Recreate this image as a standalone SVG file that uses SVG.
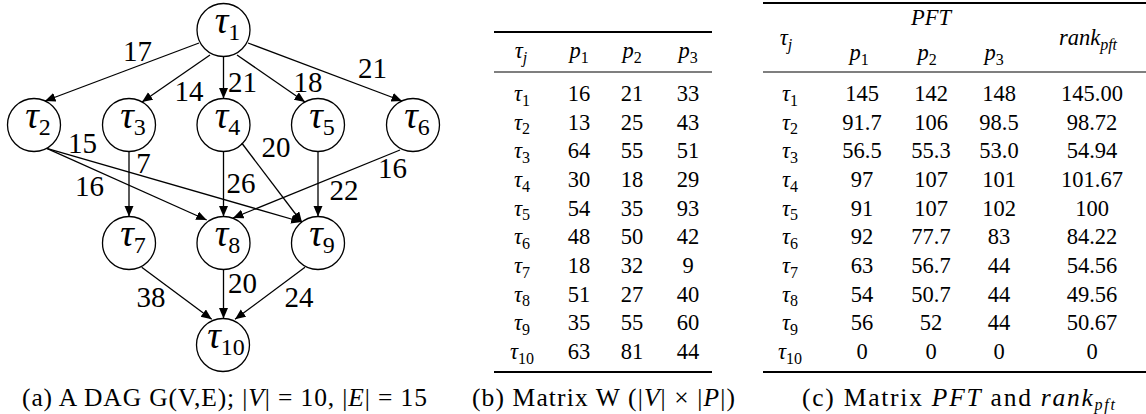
<svg xmlns="http://www.w3.org/2000/svg" width="1146" height="414" viewBox="0 0 1146 414">
<style>
text{font-family:"Liberation Serif","Times New Roman",serif;fill:#000}
.node circle{fill:none;stroke:#000;stroke-width:1.3}
.nl{font-size:38px;font-style:italic;text-anchor:middle}
.ns{font-size:24px;font-style:normal}
.conn line{stroke:#000;stroke-width:1.3;marker-end:url(#arr)}
.el{font-size:29px;text-anchor:middle}
.t{font-size:22.5px;text-anchor:middle}
.m{font-style:italic}
.s{font-size:16px;font-style:normal}
.si{font-size:16px;font-style:italic}
.cap{font-size:25.5px;text-anchor:middle}
.rule{stroke:#000;stroke-width:2}
.mrule{stroke:#000;stroke-width:1.2}
</style>
<defs>
<marker id="arr" markerUnits="userSpaceOnUse" markerWidth="12" markerHeight="10" refX="10.5" refY="4.5" orient="auto">
<path d="M0,0 L10.5,4.5 L0,9 Z" fill="#000"/>
</marker>
</defs>

<g id="connectors" class="conn">
<line x1="199" y1="43" x2="45" y2="101"/>
<line x1="210" y1="55" x2="142" y2="102"/>
<line x1="223.5" y1="56.5" x2="223.5" y2="98.5"/>
<line x1="237" y1="55" x2="305" y2="102"/>
<line x1="248" y1="43" x2="402" y2="101"/>
<line x1="46.7" y1="148.3" x2="206.7" y2="220"/>
<line x1="46.7" y1="148.3" x2="301.7" y2="222"/>
<line x1="129" y1="151.5" x2="129" y2="216.5"/>
<line x1="223.5" y1="151.5" x2="223.5" y2="216.5"/>
<line x1="241.7" y1="143" x2="302" y2="222.5"/>
<line x1="318" y1="151.5" x2="318" y2="216.5"/>
<line x1="400" y1="150" x2="233" y2="218"/>
<line x1="141.7" y1="267.3" x2="211.7" y2="319.3"/>
<line x1="223.5" y1="269.5" x2="223.5" y2="318.5"/>
<line x1="305" y1="267.3" x2="235" y2="319.3"/>
</g>

<g id="edge-labels" class="el">
<text x="137.5" y="60.5">17</text>
<text x="189" y="101">14</text>
<text x="242.5" y="91.5">21</text>
<text x="308" y="92">18</text>
<text x="372.5" y="78">21</text>
<text x="82.5" y="152.5">15</text>
<text x="89.5" y="196">16</text>
<text x="143.5" y="173">7</text>
<text x="241" y="193">26</text>
<text x="276" y="156.5">20</text>
<text x="344" y="200">22</text>
<text x="392.5" y="178">16</text>
<text x="151" y="306.5">38</text>
<text x="242.5" y="293">20</text>
<text x="299" y="307">24</text>
</g>

<g id="t1" class="node"><circle cx="223.5" cy="30" r="26.5"/><text class="nl" x="227.5" y="33">τ<tspan class="ns" dy="7">1</tspan></text></g>
<g id="t2" class="node"><circle cx="34" cy="125" r="26.5"/><text class="nl" x="38" y="128">τ<tspan class="ns" dy="7">2</tspan></text></g>
<g id="t3" class="node"><circle cx="129" cy="125" r="26.5"/><text class="nl" x="133" y="128">τ<tspan class="ns" dy="7">3</tspan></text></g>
<g id="t4" class="node"><circle cx="223.5" cy="125" r="26.5"/><text class="nl" x="227.5" y="128">τ<tspan class="ns" dy="7">4</tspan></text></g>
<g id="t5" class="node"><circle cx="318" cy="125" r="26.5"/><text class="nl" x="322" y="128">τ<tspan class="ns" dy="7">5</tspan></text></g>
<g id="t6" class="node"><circle cx="413" cy="125" r="26.5"/><text class="nl" x="417" y="128">τ<tspan class="ns" dy="7">6</tspan></text></g>
<g id="t7" class="node"><circle cx="129" cy="243" r="26.5"/><text class="nl" x="133" y="246">τ<tspan class="ns" dy="7">7</tspan></text></g>
<g id="t8" class="node"><circle cx="223.5" cy="243" r="26.5"/><text class="nl" x="227.5" y="246">τ<tspan class="ns" dy="7">8</tspan></text></g>
<g id="t9" class="node"><circle cx="318" cy="243" r="26.5"/><text class="nl" x="322" y="246">τ<tspan class="ns" dy="7">9</tspan></text></g>
<g id="t10" class="node"><circle cx="223" cy="345" r="26.5"/><text class="nl" x="226" y="348">τ<tspan class="ns" dy="7">10</tspan></text></g>

<text class="cap" x="224.5" y="406" textLength="405" lengthAdjust="spacing">(a) A DAG G(V,E); |<tspan class="m">V</tspan>| = 10, |<tspan class="m">E</tspan>| = 15</text>

<g id="tableW">
<line class="rule" x1="494" y1="32" x2="712" y2="32"/>
<line class="mrule" x1="494" y1="72" x2="712" y2="72"/>
<line class="rule" x1="494" y1="372" x2="712" y2="372"/>
<g class="t">
<text x="521" y="58"><tspan class="m">τ</tspan><tspan class="si" dy="4.5">j</tspan></text>
<text x="579" y="58"><tspan class="m">p</tspan><tspan class="s" dy="4.5">1</tspan></text>
<text x="632" y="58"><tspan class="m">p</tspan><tspan class="s" dy="4.5">2</tspan></text>
<text x="688" y="58"><tspan class="m">p</tspan><tspan class="s" dy="4.5">3</tspan></text>
</g>
<g class="t">
<text x="522" y="101"><tspan class="m">τ</tspan><tspan class="s" dy="4.5">1</tspan></text>
<text x="522" y="129.7"><tspan class="m">τ</tspan><tspan class="s" dy="4.5">2</tspan></text>
<text x="522" y="158.3"><tspan class="m">τ</tspan><tspan class="s" dy="4.5">3</tspan></text>
<text x="522" y="187"><tspan class="m">τ</tspan><tspan class="s" dy="4.5">4</tspan></text>
<text x="522" y="215.7"><tspan class="m">τ</tspan><tspan class="s" dy="4.5">5</tspan></text>
<text x="522" y="244.3"><tspan class="m">τ</tspan><tspan class="s" dy="4.5">6</tspan></text>
<text x="522" y="273"><tspan class="m">τ</tspan><tspan class="s" dy="4.5">7</tspan></text>
<text x="522" y="301.7"><tspan class="m">τ</tspan><tspan class="s" dy="4.5">8</tspan></text>
<text x="522" y="330.3"><tspan class="m">τ</tspan><tspan class="s" dy="4.5">9</tspan></text>
<text x="522" y="359"><tspan class="m">τ</tspan><tspan class="s" dy="4.5">10</tspan></text>
</g>
<g class="t">
<text x="579" y="101">16</text><text x="632" y="101">21</text><text x="688" y="101">33</text>
<text x="579" y="129.7">13</text><text x="632" y="129.7">25</text><text x="688" y="129.7">43</text>
<text x="579" y="158.3">64</text><text x="632" y="158.3">55</text><text x="688" y="158.3">51</text>
<text x="579" y="187">30</text><text x="632" y="187">18</text><text x="688" y="187">29</text>
<text x="579" y="215.7">54</text><text x="632" y="215.7">35</text><text x="688" y="215.7">93</text>
<text x="579" y="244.3">48</text><text x="632" y="244.3">50</text><text x="688" y="244.3">42</text>
<text x="579" y="273">18</text><text x="632" y="273">32</text><text x="688" y="273">9</text>
<text x="579" y="301.7">51</text><text x="632" y="301.7">27</text><text x="688" y="301.7">40</text>
<text x="579" y="330.3">35</text><text x="632" y="330.3">55</text><text x="688" y="330.3">60</text>
<text x="579" y="359">63</text><text x="632" y="359">81</text><text x="688" y="359">44</text>
</g>
<text class="cap" x="603.5" y="406" textLength="263" lengthAdjust="spacing">(b) Matrix W (|<tspan class="m">V</tspan>| × |<tspan class="m">P</tspan>|)</text>
</g>

<g id="tablePFT">
<line class="rule" x1="763" y1="3" x2="1146" y2="3"/>
<line class="mrule" x1="763" y1="72" x2="1146" y2="72"/>
<line class="rule" x1="763" y1="372" x2="1146" y2="372"/>
<g class="t">
<text x="931" y="25" class="m">PFT</text>
<text x="786" y="45"><tspan class="m">τ</tspan><tspan class="si" dy="4.5">j</tspan></text>
<text x="859" y="60"><tspan class="m">p</tspan><tspan class="s" dy="4.5">1</tspan></text>
<text x="927" y="60"><tspan class="m">p</tspan><tspan class="s" dy="4.5">2</tspan></text>
<text x="994" y="60"><tspan class="m">p</tspan><tspan class="s" dy="4.5">3</tspan></text>
<text x="1088" y="45"><tspan class="m">rank</tspan><tspan class="si" dy="4.5">pft</tspan></text>
</g>
<g class="t">
<text x="790" y="101"><tspan class="m">τ</tspan><tspan class="s" dy="4.5">1</tspan></text>
<text x="790" y="129.7"><tspan class="m">τ</tspan><tspan class="s" dy="4.5">2</tspan></text>
<text x="790" y="158.3"><tspan class="m">τ</tspan><tspan class="s" dy="4.5">3</tspan></text>
<text x="790" y="187"><tspan class="m">τ</tspan><tspan class="s" dy="4.5">4</tspan></text>
<text x="790" y="215.7"><tspan class="m">τ</tspan><tspan class="s" dy="4.5">5</tspan></text>
<text x="790" y="244.3"><tspan class="m">τ</tspan><tspan class="s" dy="4.5">6</tspan></text>
<text x="790" y="273"><tspan class="m">τ</tspan><tspan class="s" dy="4.5">7</tspan></text>
<text x="790" y="301.7"><tspan class="m">τ</tspan><tspan class="s" dy="4.5">8</tspan></text>
<text x="790" y="330.3"><tspan class="m">τ</tspan><tspan class="s" dy="4.5">9</tspan></text>
<text x="790" y="359"><tspan class="m">τ</tspan><tspan class="s" dy="4.5">10</tspan></text>
</g>
<g class="t">
<text x="862" y="101">145</text><text x="931" y="101">142</text><text x="999" y="101">148</text><text x="1092" y="101">145.00</text>
<text x="862" y="129.7">91.7</text><text x="931" y="129.7">106</text><text x="999" y="129.7">98.5</text><text x="1092" y="129.7">98.72</text>
<text x="862" y="158.3">56.5</text><text x="931" y="158.3">55.3</text><text x="999" y="158.3">53.0</text><text x="1092" y="158.3">54.94</text>
<text x="862" y="187">97</text><text x="931" y="187">107</text><text x="999" y="187">101</text><text x="1092" y="187">101.67</text>
<text x="862" y="215.7">91</text><text x="931" y="215.7">107</text><text x="999" y="215.7">102</text><text x="1092" y="215.7">100</text>
<text x="862" y="244.3">92</text><text x="931" y="244.3">77.7</text><text x="999" y="244.3">83</text><text x="1092" y="244.3">84.22</text>
<text x="862" y="273">63</text><text x="931" y="273">56.7</text><text x="999" y="273">44</text><text x="1092" y="273">54.56</text>
<text x="862" y="301.7">54</text><text x="931" y="301.7">50.7</text><text x="999" y="301.7">44</text><text x="1092" y="301.7">49.56</text>
<text x="862" y="330.3">56</text><text x="931" y="330.3">52</text><text x="999" y="330.3">44</text><text x="1092" y="330.3">50.67</text>
<text x="862" y="359">0</text><text x="931" y="359">0</text><text x="999" y="359">0</text><text x="1092" y="359">0</text>
</g>
<text class="cap" x="958.5" y="406" textLength="313" lengthAdjust="spacing">(c) Matrix <tspan class="m">PFT</tspan> and <tspan class="m">rank</tspan><tspan class="si" dy="4">pft</tspan></text>
</g>
</svg>
